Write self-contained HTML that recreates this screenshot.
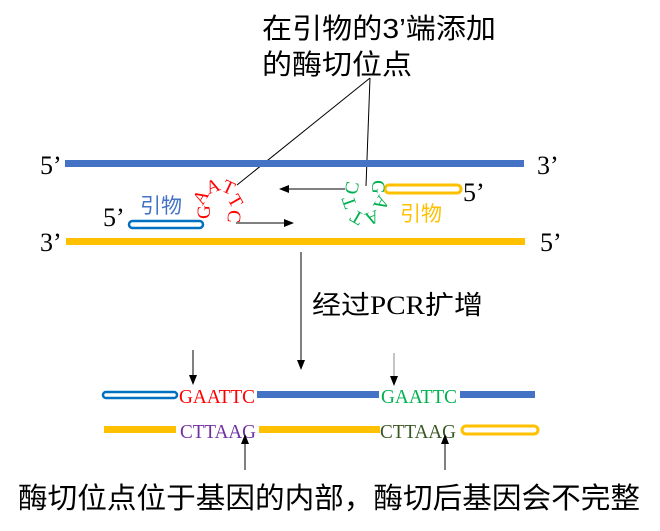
<!DOCTYPE html>
<html><head><meta charset="utf-8"><style>body{margin:0;background:#fff}svg{display:block}</style></head><body>
<svg width="660" height="531" viewBox="0 0 660 531" xmlns="http://www.w3.org/2000/svg" font-family="Liberation Serif, Noto Serif CJK SC, serif">
<defs><marker id="a" markerWidth="10" markerHeight="8" refX="9" refY="4" orient="auto" markerUnits="userSpaceOnUse"><path d="M0,0L10,4L0,8z" fill="#000"/></marker></defs>
<g font-family="Liberation Sans, Noto Sans CJK SC, sans-serif" font-size="28" fill="#000">
<text x="262" y="38" textLength="234" lengthAdjust="spacingAndGlyphs">在引物的3’端添加</text>
<text x="262" y="74" textLength="150" lengthAdjust="spacingAndGlyphs">的酶切位点</text>
</g>
<line x1="237" y1="185" x2="370" y2="78" stroke="#000" stroke-width="1"/>
<line x1="366" y1="186" x2="370" y2="78" stroke="#000" stroke-width="1"/>
<rect x="65" y="160" width="459" height="7" fill="#4472c4"/>
<rect x="66" y="238" width="459" height="7" fill="#ffc000"/>
<g font-size="26"><text x="40" y="174">5’</text><text x="537" y="174">3’</text><text x="40" y="251">3’</text><text x="540" y="251">5’</text>
<text x="103" y="226">5’</text><text x="463" y="201">5’</text></g>
<rect x="129" y="221" width="74" height="7" rx="3.5" fill="#fff" stroke="#0070c0" stroke-width="2.5"/>
<rect x="385" y="185" width="76" height="8" rx="4" fill="#fff" stroke="#ffc000" stroke-width="3"/>
<g font-family="Liberation Sans, Noto Sans CJK SC, sans-serif" font-size="21"><text x="140" y="213" fill="#4472c4">引物</text><text x="400" y="221" fill="#ffc000">引物</text></g>
<g font-size="19" fill="#ff0000" text-anchor="middle">
<text transform="translate(210,212) rotate(-90)">G</text>
<text transform="translate(206,200) rotate(-60)">A</text>
<text transform="translate(215,192) rotate(-20)">A</text>
<text transform="translate(226,193) rotate(25)">T</text>
<text transform="translate(230,204) rotate(60)">T</text>
<text transform="translate(228,216) rotate(95)">C</text>
</g>
<g font-size="19" fill="#00b050" text-anchor="middle">
<text transform="translate(372,187) rotate(90)">G</text>
<text transform="translate(376,200) rotate(120)">A</text>
<text transform="translate(370,212) rotate(160)">A</text>
<text transform="translate(360,212) rotate(-150)">T</text>
<text transform="translate(355,200) rotate(-110)">T</text>
<text transform="translate(358,189) rotate(-80)">C</text>
</g>
<line x1="236" y1="223" x2="293" y2="223" stroke="#000" marker-end="url(#a)"/>
<line x1="345" y1="189" x2="280" y2="189" stroke="#000" marker-end="url(#a)"/>
<line x1="301" y1="252" x2="301" y2="369" stroke="#000" marker-end="url(#a)"/>
<text x="312" y="314" font-size="26" textLength="171" lengthAdjust="spacingAndGlyphs" font-family="Liberation Serif, Noto Sans CJK SC, serif">经过PCR扩增</text>
<rect x="103" y="392" width="74" height="6" rx="3" fill="#fff" stroke="#0070c0" stroke-width="2.5"/>
<text x="179" y="403" font-size="20" textLength="76" lengthAdjust="spacingAndGlyphs" fill="#ff0000">GAATTC</text>
<rect x="257" y="391" width="122" height="7" fill="#4472c4"/>
<text x="381" y="403" font-size="20" textLength="76" lengthAdjust="spacingAndGlyphs" fill="#00b050">GAATTC</text>
<rect x="460" y="391" width="75" height="7" fill="#4472c4"/>
<rect x="104" y="426" width="72" height="7" fill="#ffc000"/>
<text x="180" y="438" font-size="20" textLength="76" lengthAdjust="spacingAndGlyphs" fill="#7030a0">CTTAAG</text>
<rect x="259" y="426" width="121" height="7" fill="#ffc000"/>
<text x="380" y="438" font-size="20" textLength="76" lengthAdjust="spacingAndGlyphs" fill="#375623">CTTAAG</text>
<rect x="462" y="426" width="76" height="8" rx="4" fill="#fff" stroke="#ffc000" stroke-width="3"/>
<line x1="193" y1="350" x2="193" y2="384" stroke="#000" marker-end="url(#a)"/>
<line x1="394" y1="353" x2="394" y2="385" stroke="#888" marker-end="url(#a)"/>
<line x1="245" y1="470" x2="245" y2="435" stroke="#000" marker-end="url(#a)"/>
<line x1="445" y1="470" x2="445" y2="435" stroke="#000" marker-end="url(#a)"/>
<text x="18" y="508" font-size="29" textLength="622" lengthAdjust="spacingAndGlyphs" font-family="Liberation Sans, Noto Sans CJK SC, sans-serif">酶切位点位于基因的内部，酶切后基因会不完整</text>
</svg>
</body></html>
